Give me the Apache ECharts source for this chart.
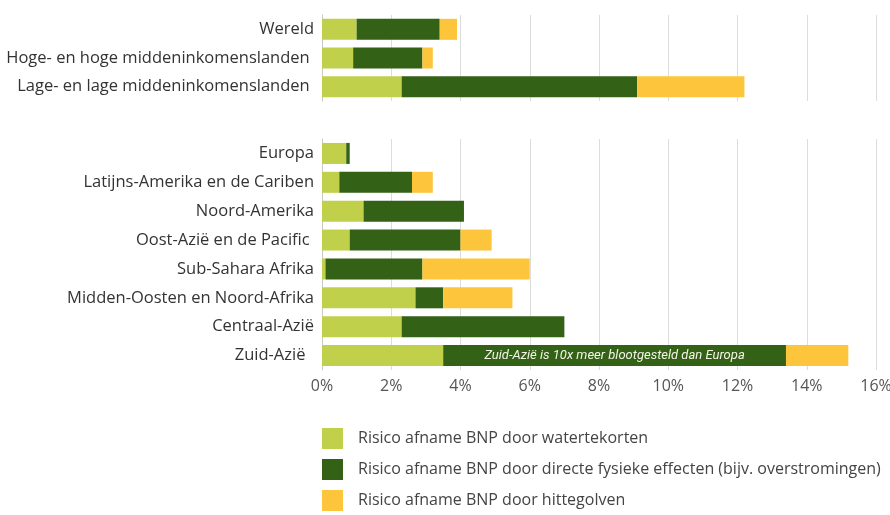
<!DOCTYPE html>
<html>
<head>
<meta charset="utf-8">
<script src="https://cdn.jsdelivr.net/npm/echarts@6/dist/echarts.min.js"></script>
<style>
  html, body { margin: 0; padding: 0; background: #fff; }
  #chart { width: 890px; height: 515px; }
</style>
</head>
<body>
<div id="chart"></div>
<script>
// bovenste groep (inkomensgroepen)
var groupCats = ['Wereld', 'Hoge- en hoge middeninkomenslanden ', 'Lage- en lage middeninkomenslanden ']
var groupWater = [1.0, 0.9, 2.3]
var groupDirect = [2.4, 2.0, 6.8]
var groupHitte = [0.5, 0.3, 3.1]

// onderste groep (regio's)
var regionCats = ['Europa', 'Latijns-Amerika en de Cariben', 'Noord-Amerika', 'Oost-Azië en de Pacific ',
  'Sub-Sahara Afrika', 'Midden-Oosten en Noord-Afrika', 'Centraal-Azië', 'Zuid-Azië  ']
var regionWater = [0.7, 0.5, 1.2, 0.8, 0.1, 2.7, 2.3, 3.5]
var regionDirect = [0.1, 2.1, 2.9, 3.2, 2.8, 0.8, 4.7, 9.9]
var regionHitte = [0, 0.6, 0, 0.9, 3.1, 2.0, 0, 1.8]

var xTicks = [0, 2, 4, 6, 8, 10, 12, 14, 16]
var seriesNames = [
  'Risico afname BNP door watertekorten',
  'Risico afname BNP door directe fysieke effecten (bijv. overstromingen)',
  'Risico afname BNP door hittegolven'
]
var annotation = 'Zuid-Azië is 10x meer blootgesteld dan Europa'

var colors = ['#c1d04a', '#336116', '#fdc53b']
var font = 'Open Sans'

var chart = echarts.init(document.getElementById('chart'))

function xAxisFor(gridIndex, showLabel) {
  return {
    type: 'value',
    gridIndex: gridIndex,
    min: xTicks[0],
    max: xTicks[xTicks.length - 1],
    interval: 2,
    axisLine: { show: false },
    axisTick: { show: false },
    axisLabel: {
      show: showLabel,
      formatter: '{value}%',
      color: '#555',
      fontSize: 16,
      fontFamily: font,
      margin: 8
    },
    splitLine: { show: true, lineStyle: { color: '#dcdcdc', width: 1 } }
  }
}

function yAxisFor(gridIndex, cats) {
  return {
    type: 'category',
    gridIndex: gridIndex,
    inverse: true,
    data: cats,
    axisLine: { show: true, lineStyle: { color: '#c8c8c8' } },
    axisTick: { show: false },
    axisLabel: { color: '#333', fontSize: 16.5, fontFamily: font, margin: 8 }
  }
}

function bar(name, idx, data, axisIdx, stack) {
  return {
    name: name,
    type: 'bar',
    stack: stack,
    xAxisIndex: axisIdx,
    yAxisIndex: axisIdx,
    barWidth: 21,
    itemStyle: { color: colors[idx] },
    data: data
  }
}

var directRegion = regionDirect.map(function(v, i) {
  if (i === regionDirect.length - 1) {
    return {
      value: v,
      label: {
        show: true,
        position: 'inside',
        formatter: annotation,
        color: '#f4f4e8',
        fontStyle: 'italic',
        fontSize: 13,
        fontFamily: 'Roboto'
      }
    }
  }
  return v
})

chart.setOption({
  backgroundColor: '#fff',
  animation: false,
  grid: [
    { left: 322, right: 14, top: 15, height: 86, outerBoundsMode: 'none' },
    { left: 322, right: 14, top: 139, height: 231, outerBoundsMode: 'none' }
  ],
  legend: {
    orient: 'vertical',
    left: 322,
    top: 428,
    height: 100,
    padding: 0,
    icon: 'rect',
    itemWidth: 21,
    itemHeight: 21,
    itemGap: 10,
    textStyle: { color: '#444', fontSize: 16, fontFamily: font, padding: [0, 0, 0, 10] },
    data: seriesNames
  },
  xAxis: [xAxisFor(0, false), xAxisFor(1, true)],
  yAxis: [yAxisFor(0, groupCats), yAxisFor(1, regionCats)],
  series: [
    bar(seriesNames[0], 0, groupWater, 0, 'g'),
    bar(seriesNames[1], 1, groupDirect, 0, 'g'),
    bar(seriesNames[2], 2, groupHitte, 0, 'g'),
    bar(seriesNames[0], 0, regionWater, 1, 'r'),
    bar(seriesNames[1], 1, directRegion, 1, 'r'),
    bar(seriesNames[2], 2, regionHitte, 1, 'r')
  ]
})
</script>
</body>
</html>
